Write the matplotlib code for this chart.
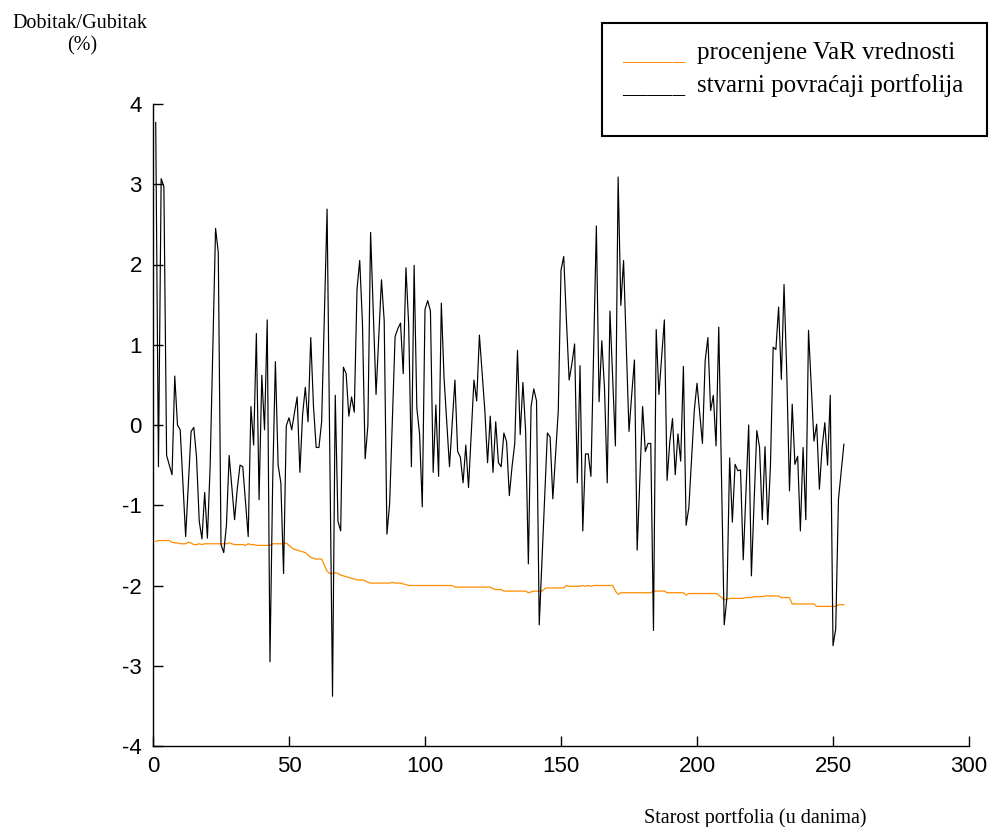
import matplotlib
matplotlib.use("Agg")
import matplotlib.pyplot as plt
import numpy as np
from matplotlib.patches import Rectangle

plt.rcParams['axes.unicode_minus'] = False

# ---------------- data ----------------
returns = [
    3.77, -0.52, 3.07, 2.97, -0.38, -0.50, -0.62, 0.61, 0.00, -0.06,
    -0.72, -1.39, -0.73, -0.08, -0.03, -0.40, -1.20, -1.42, -0.84, -1.41,
    -0.52, 0.97, 2.45, 2.15, -1.49, -1.59, -1.25, -0.38, -0.78, -1.18,
    -0.79, -0.50, -0.52, -0.95, -1.39, 0.23, -0.25, 1.14, -0.93, 0.62,
    -0.06, 1.31, -2.95, -0.70, 0.79, -0.50, -0.72, -1.85, -0.01, 0.09,
    -0.06, 0.15, 0.35, -0.59, 0.13, 0.47, 0.04, 1.09, 0.23, -0.28,
    -0.28, 0.04, 1.35, 2.69, -0.35, -3.38, 0.37, -1.20, -1.32, 0.72,
    0.64, 0.11, 0.35, 0.16, 1.69, 2.05, 1.27, -0.42, -0.01, 2.40,
    1.39, 0.38, 1.10, 1.81, 1.30, -1.36, -0.98, 0.06, 1.10, 1.20,
    1.27, 0.64, 1.96, 1.25, -0.52, 1.99, 0.21, -0.11, -1.02, 1.44,
    1.55, 1.42, -0.59, 0.25, -0.64, 1.52, 0.59, 0.03, -0.52, 0.02,
    0.56, -0.33, -0.40, -0.72, -0.25, -0.78, -0.10, 0.56, 0.30, 1.12,
    0.65, 0.18, -0.47, 0.11, -0.59, 0.04, -0.47, -0.52, -0.10, -0.21,
    -0.88, -0.52, -0.23, 0.93, -0.12, 0.53, -0.08, -1.73, 0.23, 0.45,
    0.30, -2.49, -1.70, -0.90, -0.10, -0.15, -0.92, -0.37, 0.18, 1.93,
    2.10, 1.30, 0.56, 0.76, 1.01, -0.72, 0.74, -1.32, -0.36, -0.36,
    -0.64, 0.92, 2.48, 0.29, 1.05, 0.45, -0.72, 1.42, 0.58, -0.26,
    3.09, 1.49, 2.05, 0.98, -0.08, 0.38, 0.81, -1.56, -0.67, 0.23,
    -0.33, -0.23, -0.23, -2.56, 1.19, 0.38, 0.85, 1.31, -0.69, -0.21,
    0.08, -0.62, -0.11, -0.45, 0.73, -1.25, -1.03, -0.42, 0.18, 0.52,
    0.15, -0.23, 0.80, 1.09, 0.18, 0.37, -0.26, 1.22, -0.63, -2.49,
    -2.15, -0.41, -1.21, -0.49, -0.57, -0.56, -1.68, -0.84, 0.00, -1.88,
    -0.95, -0.07, -0.28, -1.18, -0.27, -1.24, -0.51, 0.97, 0.94, 1.47,
    0.57, 1.75, 0.65, -0.82, 0.26, -0.49, -0.39, -1.32, -0.28, -1.18,
    1.18, 0.49, -0.20, 0.01, -0.80, -0.28, 0.03, -0.50, 0.37, -2.75,
    -2.54, -0.93, -0.58, -0.24,
]

var_est = (
    [-1.45, -1.44, -1.44, -1.44, -1.44, -1.44, -1.46, -1.47, -1.47, -1.48,
     -1.48, -1.48, -1.46, -1.47, -1.49, -1.49, -1.48, -1.49, -1.48]
    + [-1.48] * 8
    + [-1.47, -1.48, -1.49, -1.49, -1.49, -1.49, -1.50, -1.48, -1.49, -1.49]
    + [-1.50] * 6
    + [-1.48] * 5
    + [-1.47, -1.50, -1.53, -1.55, -1.56, -1.57, -1.58, -1.59, -1.62, -1.65,
       -1.66, -1.67, -1.67, -1.67, -1.75, -1.82, -1.85, -1.85, -1.84, -1.85,
       -1.87, -1.88, -1.89, -1.90, -1.91, -1.92, -1.93, -1.93, -1.93, -1.94,
       -1.96]
    + [-1.97] * 8
    + [-1.96, -1.97, -1.97, -1.97, -1.98, -1.99]
    + [-2.00] * 17
    + [-2.02] * 14
    + [-2.04, -2.05, -2.05, -2.05]
    + [-2.07] * 9
    + [-2.09, -2.08, -2.07, -2.07, -2.07, -2.07, -2.04]
    + [-2.03] * 7
    + [-2.00, -2.01, -2.01, -2.01, -2.01, -2.01, -2.00, -2.01, -2.00, -2.01]
    + [-2.00] * 8
    + [-2.07, -2.11]
    + [-2.09] * 12
    + [-2.07] * 5
    + [-2.09] * 7
    + [-2.12]
    + [-2.10] * 11
    + [-2.12, -2.15, -2.18, -2.17]
    + [-2.16] * 6
    + [-2.15, -2.15, -2.15, -2.14, -2.14, -2.14, -2.14, -2.13, -2.13]
    + [-2.13] * 4
    + [-2.15] * 4
    + [-2.23] * 9
    + [-2.26] * 8
    + [-2.24] * 3
)

days = np.arange(1, len(returns) + 1)
days_var = np.arange(1, len(var_est) + 1)

x_ticks = [0, 50, 100, 150, 200, 250, 300]
y_ticks = [-4, -3, -2, -1, 0, 1, 2, 3, 4]

legend_labels = ["procenjene VaR vrednosti", "stvarni povraćaji portfolija"]
y_label = "Dobitak/Gubitak\n(%)"
x_label = "Starost portfolia (u danima)"

ORANGE = "#ff8c00"

# ---------------- figure ----------------
fig = plt.figure(figsize=(9.92, 8.27), dpi=100)
ax = fig.add_axes([153 / 992, 1 - 746 / 827, (969 - 153) / 992, (746 - 104) / 827])

ax.plot(days_var, var_est, color=ORANGE, lw=0.9)
ax.plot(days, returns, color="black", lw=0.85)

ax.set_xlim(0, 300)
ax.set_ylim(-4, 4)
ax.set_xticks(x_ticks)
ax.set_yticks(y_ticks)
ax.set_xticklabels([str(t) for t in x_ticks])
ax.set_yticklabels([str(t) for t in y_ticks])

for s in ("top", "right"):
    ax.spines[s].set_visible(False)
for s in ("left", "bottom"):
    ax.spines[s].set_linewidth(1.0)

ax.tick_params(direction="in", length=7, width=1.0,
               labelsize=16, colors="black")
ax.tick_params(axis="y", pad=8)
ax.tick_params(axis="x", pad=7)
for lab in ax.get_xticklabels() + ax.get_yticklabels():
    lab.set_fontfamily("Liberation Sans")

serif = ["Liberation Serif", "DejaVu Serif"]

# axis labels as free text
fig.text(80 / 992, 1 - 24 / 827, y_label.split("\n")[0], ha="center", va="center",
         fontsize=14.5, family=serif)
fig.text(82 / 992, 1 - 46 / 827, y_label.split("\n")[1], ha="center", va="center",
         fontsize=14.5, family=serif)
fig.text(755 / 992, 1 - 818 / 827, x_label, ha="center", va="center",
         fontsize=14.5, family=serif)

# legend box
fig.patches.append(Rectangle((602 / 992, 1 - 136 / 827), (987 - 602) / 992,
                             (136 - 23) / 827, transform=fig.transFigure,
                             fill=False, edgecolor="black", lw=1.5))
fig.text(622 / 992, 1 - 53 / 827, "_____", color=ORANGE, ha="left", va="center",
         fontsize=18, family=serif)
fig.text(697 / 992, 1 - 53 / 827, legend_labels[0], ha="left", va="center",
         fontsize=18, family=serif)
fig.text(622 / 992, 1 - 86 / 827, "_____", color="black", ha="left", va="center",
         fontsize=18, family=serif)
fig.text(697 / 992, 1 - 86 / 827, legend_labels[1], ha="left", va="center",
         fontsize=18, family=serif)

fig.savefig("out.png", dpi=100, facecolor="white")
